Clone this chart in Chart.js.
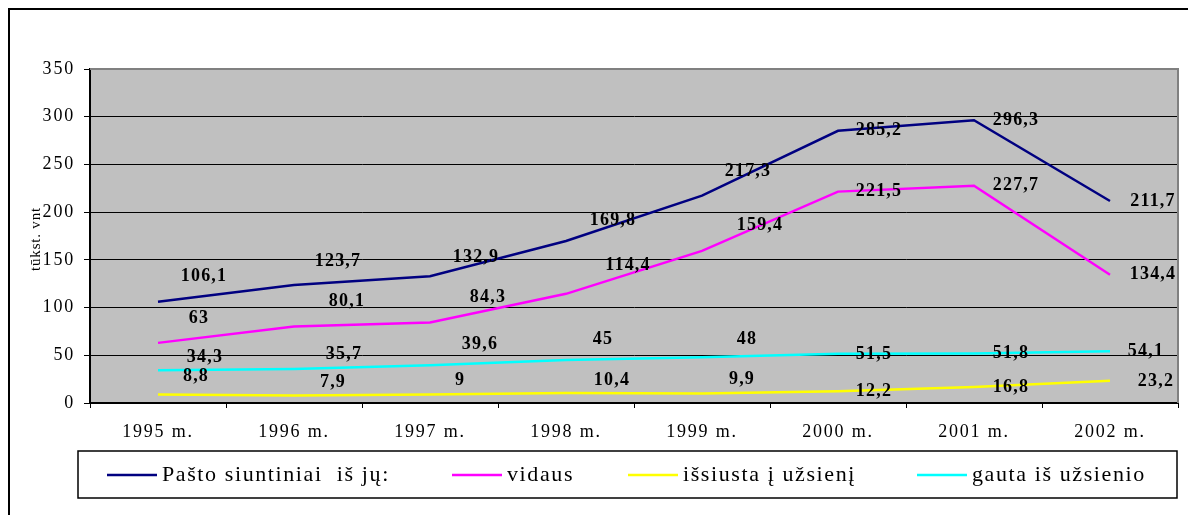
<!DOCTYPE html>
<html>
<head>
<meta charset="utf-8">
<script src="https://cdn.jsdelivr.net/npm/chart.js@4/dist/chart.umd.min.js"></script>
<style>
  body { margin: 0; background: #fff; }
  canvas { display: block; }
</style>
</head>
<body>
<canvas id="grafikas" width="1188" height="515"></canvas>
<script>
const metai = ['1995 m.', '1996 m.', '1997 m.', '1998 m.', '1999 m.', '2000 m.', '2001 m.', '2002 m.'];
const siuntiniai = [106.1, 123.7, 132.9, 169.8, 217.3, 285.2, 296.3, 211.7];
const vidaus = [63, 80.1, 84.3, 114.4, 159.4, 221.5, 227.7, 134.4];
const issiusta = [8.8, 7.9, 9, 10.4, 9.9, 12.2, 16.8, 23.2];
const gauta = [34.3, 35.7, 39.6, 45, 48, 51.5, 51.8, 54.1];
const yTicks = [0, 50, 100, 150, 200, 250, 300, 350];

// label offsets (label centre from the point), as in the original
const offSiunt = [[46,-25],[44,-24],[46,-19],[47,-21],[46,-24],[41,0],[42,0],[43,0]];
const offVid = [[41,-25],[53,-25],[58,-25],[62,-28],[58,-26],[41,0],[42,0],[43,0]];
const offIss = [[38,-18],[39,-13],[30,-14],[46,-13],[40,-14],[36,0],[37,0],[46,0]];
const offGauta = [[47,-13],[50,-15],[50,-21],[37,-21],[45,-18],[36,0],[37,0],[36,0]];

const serif = '"Liberation Serif", "Times New Roman", serif';

// gray plot area + outer frame, labels, legend
const fonas = {
    id: 'fonas',
    beforeDraw(chart) {
        const c = chart.ctx;
        const a = chart.chartArea;
        c.save();
        c.fillStyle = '#c0c0c0';
        c.fillRect(a.left, a.top, a.right - a.left, a.bottom - a.top);
        c.strokeStyle = '#000';
        c.lineWidth = 2;
        c.strokeRect(9, 9, 1200, 520);
        c.restore();
        c.letterSpacing = '1.8px'; // spread tick text like the original
    },
    afterDatasetsDraw(chart) {
        const c = chart.ctx;
        const a = chart.chartArea;
        c.save();
        // plot border top/right
        c.strokeStyle = '#808080';
        c.lineWidth = 2;
        c.beginPath();
        c.moveTo(a.left, a.top);
        c.lineTo(a.right, a.top);
        c.lineTo(a.right, a.bottom);
        c.stroke();

        // data labels
        c.font = 'bold 18px ' + serif;
        c.letterSpacing = '1.2px';
        c.fillStyle = '#000';
        c.textAlign = 'center';
        c.textBaseline = 'middle';
        const offs = [offSiunt, offVid, offIss, offGauta];
        chart.data.datasets.forEach((ds, i) => {
            const meta = chart.getDatasetMeta(i);
            meta.data.forEach((pt, j) => {
                const txt = String(ds.data[j]).replace('.', ',');
                c.fillText(txt, pt.x + offs[i][j][0], pt.y + offs[i][j][1]);
            });
        });

        // y axis title
        c.font = '15px ' + serif;
        c.letterSpacing = '0.8px';
        c.translate(36, 239);
        c.rotate(-Math.PI / 2);
        c.fillText('tūkst. vnt', 0, 0);
        c.restore();

        // legend
        c.save();
        c.strokeStyle = '#000';
        c.lineWidth = 1.5;
        c.strokeRect(78, 451, 1099, 47);
        c.font = '22px ' + serif;
        c.letterSpacing = '1.6px';
        c.textAlign = 'left';
        c.textBaseline = 'middle';
        const xs = [107, 452, 628, 917];
        chart.data.datasets.forEach((ds, i) => {
            c.strokeStyle = ds.borderColor;
            c.lineWidth = 2.5;
            c.beginPath();
            c.moveTo(xs[i], 475);
            c.lineTo(xs[i] + 50, 475);
            c.stroke();
            c.fillStyle = '#000';
            c.fillText(ds.label, xs[i] + 55, 475);
        });
        c.restore();
    }
};

new Chart(document.getElementById('grafikas'), {
    type: 'line',
    data: {
        labels: metai,
        datasets: [
            { label: 'Pašto siuntiniai  iš jų:', data: siuntiniai, borderColor: '#000080' },
            { label: 'vidaus', data: vidaus, borderColor: '#ff00ff' },
            { label: 'išsiusta į užsienį', data: issiusta, borderColor: '#ffff00' },
            { label: 'gauta iš užsienio', data: gauta, borderColor: '#00ffff' }
        ]
    },
    options: {
        responsive: false,
        animation: false,
        layout: { padding: { left: 0, top: 69, right: 10, bottom: 72 } },
        elements: {
            line: { borderWidth: 2.5, tension: 0 },
            point: { radius: 0 }
        },
        plugins: {
            legend: { display: false },
            tooltip: { enabled: false }
        },
        scales: {
            x: {
                offset: true,
                grid: {
                    offset: true,
                    drawOnChartArea: false,
                    tickLength: 5,
                    color: '#000'
                },
                border: { color: '#000', width: 2 },
                ticks: {
                    color: '#000',
                    padding: 13,
                    maxRotation: 0,
                    font: { family: serif, size: 18 }
                },
                afterFit(s) { s.height = 40; }
            },
            y: {
                min: 0,
                max: 350,
                grid: { color: '#000', lineWidth: 1, tickLength: 6 },
                border: { color: '#000', width: 2 },
                afterBuildTicks(s) { s.ticks = yTicks.map(v => ({ value: v })); },
                ticks: {
                    color: '#000',
                    padding: 9,
                    font: { family: serif, size: 18 }
                },
                afterFit(s) { s.width = 90; }
            }
        }
    },
    plugins: [fonas]
});
</script>
</body>
</html>
